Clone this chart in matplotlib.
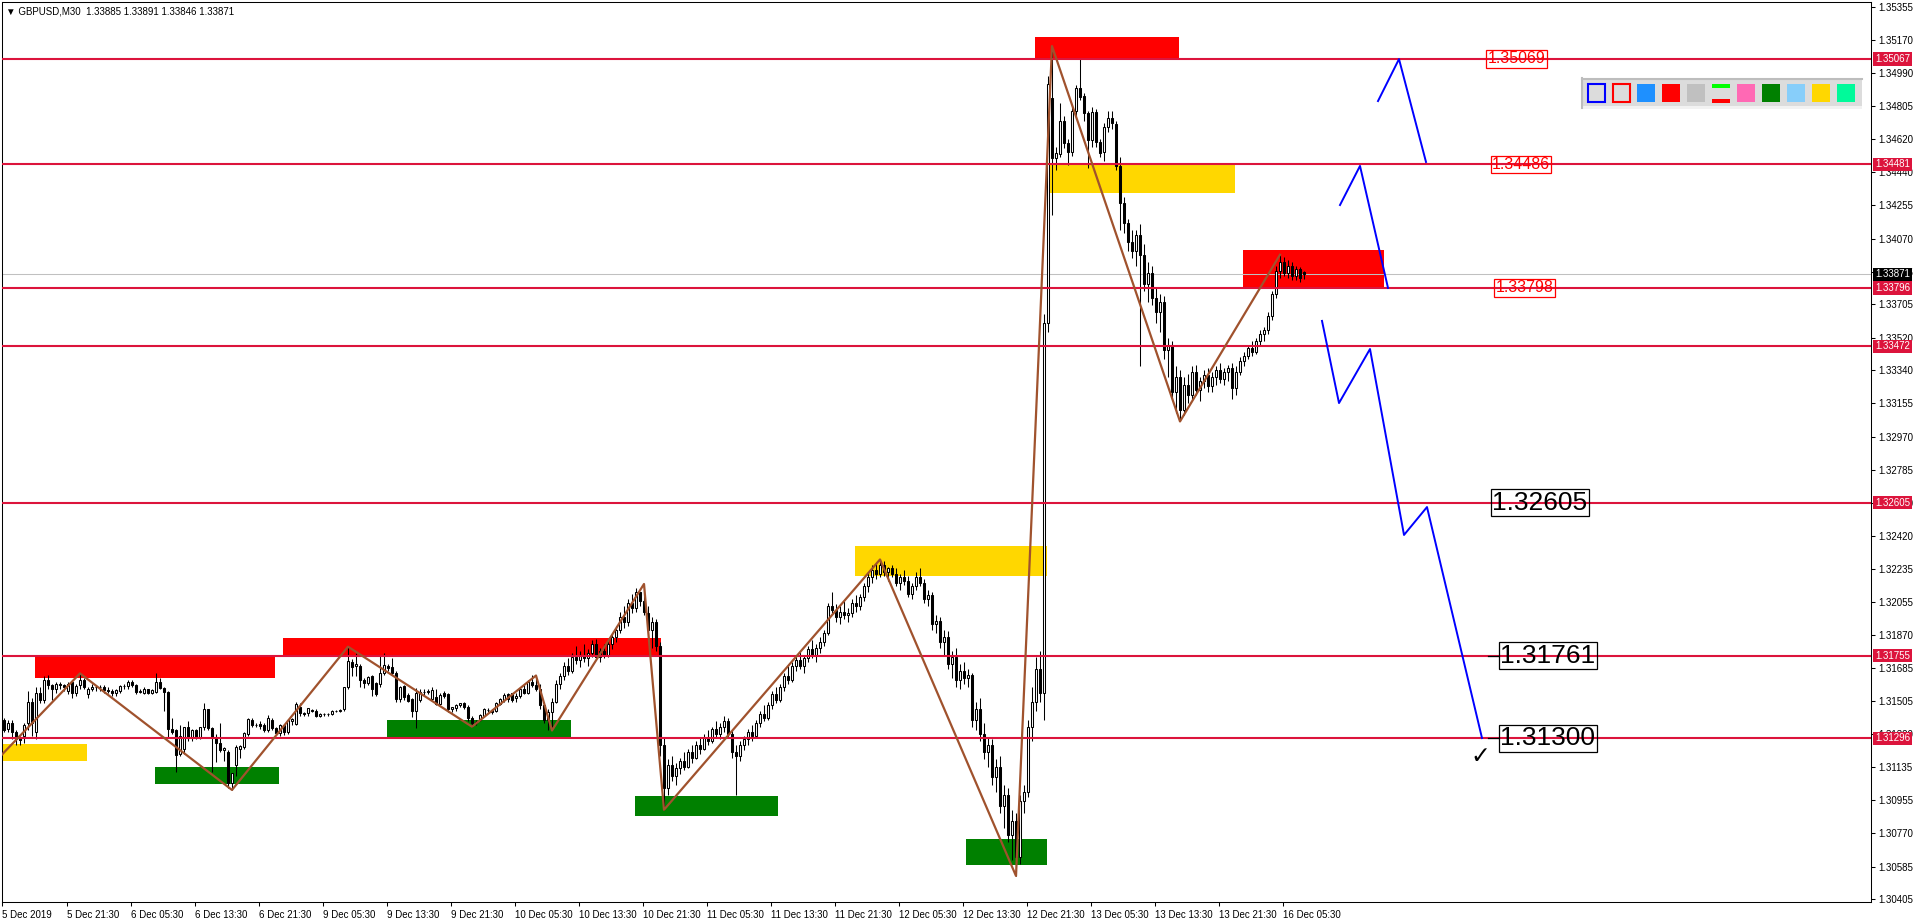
import numpy as np
import matplotlib
matplotlib.use("Agg")
import matplotlib.pyplot as plt
from matplotlib.patches import Rectangle

plt.rcParams['font.family'] = ['Liberation Sans', 'DejaVu Sans']

BASE = 1.3
PIP = 0.0001

# candles (open, high, low, close) in pips above 1.30000, M30 bars
dec05 = [(140,141,133,134),(135,140,133,138),(138,140,129,133),(133,134,126,129),(130,131,126,128.5),
         (131,138,127,137),(138,156,134,150),(150,152,131,138),(133,158,129,155),(155,158,149,151),
         (151,164,149,162),(162,165,157,159),(159,160,151,157),(157,161,155,160),(160,161,157,159),
         (159,160,156,158),(156,161,154,160),(161,162,152,155),(155,160,153,158.7),(159,165.7,157,162),
         (162,163,157,158.3)]
dec06 = [(154,158,152,157),(157,160,156,158),(158,159,156,158),(158,159,156,158),(158,159,155,156.5),
         (156.5,158,155,156),(156,157,153,154.6),(154.6,157,153,156.5),(156,159,155,158.7),(158.7,160,157,158.5),
         (158.5,162,157,161),(161,162,158,159),(159,160,154,155.5),(155.5,157,155,156),(155,158,154,156.8),
         (156.8,157,154,154.6),(155,157,154,156.5),(155.5,165.7,155,161),(161,163,157,157.4),(157.4,158,145,155.5),
         (155.5,156,130,135),(135,141,132,133.3),(134,135,111,120.4),(121,137,120,131),(124,136,121,135.7),
         (135.7,139,128,129.6),(129.6,135,128,134.3),(134.3,135,129,130),(130.6,136,129,135.7),(135.7,149,134,145.7),
         (145.7,146,134,135.2),(135.2,136,111,130.6),(130.6,132,116.7,126.9),(127,138,122,123.2),(123.2,125,117,124.1),
         (122.2,123,102,104.6),(104.6,110,101,110.2),(115,126,109,125),(124,126,119,125.4),(125,133,124,132.4),
         (132,141,131,140.4),(140,141,136,137),(137,138,136,137),(137.5,139,135,136.5),(137,138,133,134),
         (134,142.6,133,140.7),(140,141,134,135.2),(135.2,136,131.5,132.4)]
dec09 = [(132.4,137.5,131,137),(137,137.5,131.5,133.3),(133.3,140.5,132,139.8),(139,141,137,140.2),(137.6,150,137,148.7),
         (147.2,149,142,143.5),(143.5,144.5,142,143.1),(143.5,146.5,142,146.3),(145.5,146,144.5,145),(145,146,141.5,142.2),
         (142.2,143.5,141.5,143),(143,143.5,142,143),(143,143.5,142,143),(143,145.5,142.5,145),(145,145.5,144,145),
         (145,146,144.5,145.4),(145.7,158,145,157.9),(157.9,180.5,157,172.5),(172.2,173.5,164,169.4),(170,176.8,164,170.9),
         (169.8,171,158,162),(162,163,157.4,160.5),(160.5,164,159,163.5),(164.2,165,153,157),(160.2,161,153,154.2),
         (160,175.9,158,166),(166,176.8,165,170.3),(170,171,167,168.5),(169,174,165,166.1),(166.1,167,150,151.3),
         (151.3,158.7,150,157.9),(158.7,159,151,152.8),(153.7,155,150,150.5),(151.3,152,141.6,144.8),(144.8,157.4,135.5,155),
         (151,157,150,155.3),(155.3,157,153,155.5),(155.5,157,154,156.1),(151.3,158,151,156.5),(152.8,157,148,148.7),
         (148.7,155,148,153.7),(154.6,156,152,153.1),(154.2,155,144,145.7),(145.7,147,144,146.8),(146.3,148.7,145,148.1),
         (148.1,149.5,147,149.1),(149.1,150,146,147.2),(147.2,148,139,140.7)]
dec10 = [(140.7,142,136.1,138),(138,140,137,138.9),(139.8,143,139,142.6),(142,146.5,141.5,145.7),(145.4,146.5,144,145.4),
         (145.4,146,143,144.4),(145,150,144.5,149.1),(148.7,152,148,151.3),(151,155,150,153.7),(154.2,155,150,151.3),
         (154.6,155,150,151),(152,155,150,153),(153,158,152,157),(157,160,154,155),(155,162,154,161),
         (161,165,158,159),(159,164.5,156,157),(157,160,146,148),(148,150,138,140),(140,146,134,144),
         (144,152,134,150),(150,162,149,160),(160,166,157,164),(164,172,162,170),(170,174,165,167),
         (167,177,166,175),(175,181,171,173),(173,178,169,176),(176,182,172,174),(174,179,170,177),
         (177,184,175,182),(182,185,173,175),(175,180,172,178),(178,182,174,176),(176,184,175,182),
         (182,188,179,186),(186,192,183,190),(190,200,188,197),(197,203,191,194),(194,207,192,205),
         (205,210,199,202),(202,213,200,211),(211,210,203,206),(206,215.3,198,200),(199,203,186,190),
         (190,197,180,194),(194,196,178,181),(181,183,120,126)]
dec11 = [(126,130,90,102),(102,118,98,115),(115,120,106,109),(109,116,104,113),(113,119,110,117),
         (117,122,112,114),(114,124,113,122),(122,126,116,119),(119,128,118,126),(126,130,121,124),
         (124,132,123,130),(130,134,126,128),(128,136,127,135),(135,139,130,132),(132,138,129,136),
         (136,142,133,139),(139,141,130,132),(132,134,119,122),(122,126,98,120),(120,128,117,126),
         (126,131,123,129),(129,135,126,133),(133,137,128,131),(131,140,130,138),(138,145,136,143),
         (143,148,139,141),(141,150,140,148),(148,156,146,154),(154,158,149,151),(151,160,150,158),
         (158,166,156,164),(164,170,160,162),(162,172,161,170),(170,176,167,173),(173,178,168,170),
         (170,176,166,174),(174,181,172,179),(179,184,174,176),(176,182,172,180),(180,186,177,183),
         (183,190,181,188),(188,205,187,203),(203,211,199,201),(201,204,194,197),(197,203,193,200),
         (200,206,196,198),(198,202,194,199),(199,207,197,205)]
dec12 = [(205,209,200,203),(203,210,201,208),(208,216,206,214),(214,222,211,219),(219,226,216,223),
         (223,227,218,221),(221,228.9,219,226),(226,228,220,222),(222,225,217,224),(224,226,219,221),
         (221,224,214,216),(216,221,212,219),(219,223,215,217),(217,220,208,210),(210,216,207,214),
         (214,222,212,219),(219,224,214,216),(216,218,205,207),(207,212,203,209),(209,211,190,193),
         (193,198,188,195),(195,197,180,183),(183,190,176,186),(186,189,168,171),(171,178,163,175),
         (175,180,158,162),(162,171,157,167),(167,172,160,163),(163,168,158,165),(165,166,136,140),
         (140,150,134,146),(146,152,128,132),(132,138,118,122),(122,130,114,126),(126,129,104,108),
         (108,118,100,114),(114,120,88,92),(92,104,80,98),(98,102,72,76),(76,90,62,84),
         (84,88,53.3,64),(64,98,60,95),(95,104,88,100),(100,140,97,136),(136,158,128,150),
         (150,175,145,168),(168,178,150,155),(155,365,140,360),(360,497,355,493)]
dec13 = [(485,513.8,420,451.5),(451.5,458,445,454.3),(454,482,452,472.4),(472.4,475,457,459.8),(459.8,462,448,455.2),
         (455,480,453,477.7),(477.7,492,475,490.3),(490.3,507,484,485.7),(486,488,472,476.8),(476.4,478,446,461.6),
         (461.6,480,458,477),(477,479,458,460.7),(460.7,462,452,454.6),(455,471,450,468.7),(468.7,478,466,473.7),
         (473.7,478,468,470.9),(470.3,472,445,447.2),(447.2,452,412,426.9),(426.5,430,410,415.4),(415.8,418,400,405),
         (405,412,396,400),(400,412,392,409),(409,415,336,398),(398,404,378,382),(382,394,372,388),
         (388,392,370,374),(374,380,360,366),(366,376,355,372),(372,375,340,345),(345,352,330,348),
         (348,350,318,322),(322,336,310,330),(330,334,305.5,312),(312,330,309,326),(326,332,316,320),
         (320,336,318,333),(333,337,320,323),(323,330,317,328),(328,334,324,331),(331,335,322,325),
         (325,333,322,330),(330,336,326,334),(334,338,327,329),(329,335,326,333),(333,337,328,335),
         (335,338,318,324),(324,336,320,333)]
dec16 = [(333,341,331,339),(339,344,336,342),(342,348,340,346),(346,350,342,344),(344,352,343,350),
         (350,356,348,354),(354,358,350,356),(356,366,354,364),(364,378,362,376),(376,392,374,389),
         (389,398,385,394),(394,397,386,388),(388,395,385,392),(392,394,384,386),(386,392,384,390),
         (390,391,383,385),(388.5,389.1,384.6,387.1)]

# horizontal levels and current bid
levels = [1.35067, 1.34481, 1.33796, 1.33472, 1.32605, 1.31755, 1.31296]
level_tags = ['1.35067', '1.34481', '1.33796', '1.33472', '1.32605', '1.31755', '1.31296']
bid = 1.33871

ytick_vals = [1.35355, 1.35170, 1.34990, 1.34805, 1.34620, 1.34440, 1.34255, 1.34070, 1.33885, 1.33705,
              1.33520, 1.33340, 1.33155, 1.32970, 1.32785, 1.32600, 1.32420, 1.32235, 1.32055, 1.31870,
              1.31685, 1.31505, 1.31320, 1.31135, 1.30955, 1.30770, 1.30585, 1.30405]
ytick_text = ['%.5f' % v for v in ytick_vals]

xtick_text = ['5 Dec 2019', '5 Dec 21:30', '6 Dec 05:30', '6 Dec 13:30', '6 Dec 21:30', '9 Dec 05:30',
              '9 Dec 13:30', '9 Dec 21:30', '10 Dec 05:30', '10 Dec 13:30', '10 Dec 21:30', '11 Dec 05:30',
              '11 Dec 13:30', '11 Dec 21:30', '12 Dec 05:30', '12 Dec 13:30', '12 Dec 21:30', '13 Dec 05:30',
              '13 Dec 13:30', '13 Dec 21:30', '16 Dec 05:30']
xtick_bars = [-0.5] + [15.75 + 16 * k for k in range(20)]

# zigzag swing points (bar, pips)
zz_bars = [-1, 19, 57, 86, 117, 133, 137, 160, 165, 219, 253, 262, 294, 319]
zz_pips = [119.5, 165.7, 101, 180.5, 136.1, 164.5, 134, 215.3, 90, 228.9, 53.3, 513.8, 305.5, 398]

# projected path drawn in blue (bar, price)
leg1 = [(343.5, 1.34833), (348.75, 1.35066), (355.5, 1.34495)]
leg2 = [(334, 1.34256), (339, 1.34473), (346, 1.33796)]
leg3 = [(329.5, 1.33613), (333.75, 1.33157), (341.5, 1.33457), (350, 1.32425), (355.75, 1.32580), (369.5, 1.31298)]

# zones: (bar from, bar to, price low, price high)
red_zones = [(7.75, 67.75, 1.31633, 1.31755), (69.75, 164.25, 1.31755, 1.31855),
             (257.75, 293.75, 1.35067, 1.35190), (309.75, 345, 1.33796, 1.34004)]
gold_zones = [(-1, 20.8, 1.31173, 1.31265), (212.75, 260.75, 1.32200, 1.32364), (261, 307.75, 1.34324, 1.34481)]
green_zones = [(37.75, 68.65, 1.31043, 1.31139), (95.75, 141.65, 1.31300, 1.31398),
               (157.85, 193.6, 1.30864, 1.30979), (240.6, 260.75, 1.30594, 1.30736)]

red_notes = [('1.35069', 378.1, 1.35067), ('1.34486', 379.25, 1.34481), ('1.33798', 380.1, 1.33796)]
black_notes = [('1.32605', 384, 1.32605), ('1.31761', 386, 1.31755), ('1.31300', 386, 1.31296)]

toolbar_colors = ['#1E90FF', '#FF0000', '#C0C0C0', None, '#FF69B4', '#008000', '#87CEFA', '#FFD700', '#00FA9A']


def main():
    W, H = 1916, 923
    fig = plt.figure(figsize=(W / 100, H / 100), dpi=100)
    ax = fig.add_axes([2 / W, 21 / H, 1869 / W, 900 / H])
    ax.set_xlim(-0.5, 466.75)
    ax.set_ylim(1.303882, 1.353827)

    for x0, x1, p0, p1 in red_zones:
        ax.add_patch(Rectangle((x0, p0), x1 - x0, p1 - p0, fc='#FF0000', ec='none', zorder=1))
    for x0, x1, p0, p1 in gold_zones:
        ax.add_patch(Rectangle((x0, p0), x1 - x0, p1 - p0, fc='#FFD700', ec='none', zorder=1))
    for x0, x1, p0, p1 in green_zones:
        ax.add_patch(Rectangle((x0, p0), x1 - x0, p1 - p0, fc='#008000', ec='none', zorder=1))

    ax.axhline(bid, color='#C0C0C0', lw=0.75, zorder=1.5)

    candles = dec05 + dec06 + dec09 + dec10 + dec11 + dec12 + dec13 + dec16
    arr = BASE + np.array(candles, dtype=float) * PIP
    o, h, l, c = arr.T
    x = np.arange(len(arr))
    ax.vlines(x, l, h, color='black', lw=0.75, zorder=3)
    up = c >= o
    lo = np.minimum(o, c)
    hh = np.abs(c - o)
    ax.bar(x[up], hh[up], bottom=lo[up], width=0.55, color='white', edgecolor='black', linewidth=0.75, zorder=3.5)
    ax.bar(x[~up], hh[~up], bottom=lo[~up], width=0.55, color='black', edgecolor='black', linewidth=0.75, zorder=3.5)

    for p in levels:
        ax.axhline(p, color='#DC143C', lw=1.5, zorder=4)

    ax.plot(zz_bars, BASE + np.array(zz_pips) * PIP, color='#A0522D', lw=1.6, zorder=5)

    for leg in (leg1, leg2, leg3):
        bx, py = zip(*leg)
        ax.plot(bx, py, color='#0000FF', lw=1.4, zorder=5)

    for txt, bx, p in red_notes:
        ax.text(bx, p, txt, fontsize=11.5, color='#FF0000', ha='center', va='center', zorder=6,
                bbox=dict(boxstyle='square,pad=0.08', fc='none', ec='#FF0000', lw=0.9))
    for txt, bx, p in black_notes:
        ax.text(bx, p, txt, fontsize=19, color='black', ha='center', va='center', zorder=6,
                bbox=dict(boxstyle='square,pad=0.06', fc='none', ec='black', lw=0.9))
    for p in levels[-2:]:
        ax.plot([371, 373.5], [p, p], color='black', lw=0.9, zorder=6)
    ax.text(369, 1.31199, '\u2713', fontsize=17, ha='center', va='center', family='DejaVu Sans', zorder=6)

    # axis labels on the right and bottom
    ax.yaxis.tick_right()
    ax.set_yticks(ytick_vals, ytick_text)
    ax.tick_params(axis='y', length=3, width=0.75, pad=2, labelsize=7, direction='out')
    ax.set_xticks(xtick_bars, xtick_text)
    for lbl in ax.get_xticklabels():
        lbl.set_ha('left')
    ax.tick_params(axis='x', length=3, width=0.75, pad=3, labelsize=7, direction='out')
    for s in ax.spines.values():
        s.set_linewidth(0.75)
        s.set_color('black')

    for p, tag in zip(levels, level_tags):
        ax.annotate(tag, xy=(1, p), xycoords=('axes fraction', 'data'), xytext=(4, 0),
                    textcoords='offset pixels', ha='left', va='center', fontsize=7, color='white',
                    zorder=10, annotation_clip=False,
                    bbox=dict(boxstyle='square,pad=0.18', fc='#DC143C', ec='none'))
    ax.annotate('%.5f' % bid, xy=(1, bid), xycoords=('axes fraction', 'data'), xytext=(4, 0),
                textcoords='offset pixels', ha='left', va='center', fontsize=7, color='white',
                zorder=10, annotation_clip=False,
                bbox=dict(boxstyle='square,pad=0.18', fc='black', ec='none'))

    # overlay in pixel units for the header text and the colour toolbar
    ov = fig.add_axes([0, 0, 1, 1])
    ov.set_xlim(0, W)
    ov.set_ylim(H, 0)
    ov.axis('off')
    ov.text(6, 11, '\u25bc GBPUSD,M30  1.33885 1.33891 1.33846 1.33871', fontsize=7, va='center', ha='left')

    ov.add_patch(Rectangle((1582, 78), 280, 30, fc='#DCDCDC', ec='none'))
    ov.plot([1582, 1862], [78.5, 78.5], color='#BDBDBD', lw=1.5)
    ov.plot([1582.5, 1582.5], [78, 108], color='#BDBDBD', lw=1.5)
    ov.add_patch(Rectangle((1582, 106), 280, 3, fc='#F2F2F2', ec='none'))
    x0 = 1587.5
    ov.add_patch(Rectangle((x0 + 0.5, 84), 17.5, 18, fc='#DCDCDC', ec='#0000FF', lw=1.5))
    ov.add_patch(Rectangle((x0 + 25.5, 84), 17.5, 18, fc='#DCDCDC', ec='#FF0000', lw=1.5))
    for k, col in enumerate(toolbar_colors):
        xx = x0 + 50 + 25 * k
        if col is None:
            ov.add_patch(Rectangle((xx, 84), 18, 4, fc='#00FF00', ec='none'))
            ov.add_patch(Rectangle((xx, 99), 18, 4, fc='#FF0000', ec='none'))
        else:
            ov.add_patch(Rectangle((xx, 84), 18, 18, fc=col, ec='none'))

    fig.savefig('out.png', dpi=100)


if __name__ == "__main__":
    main()
